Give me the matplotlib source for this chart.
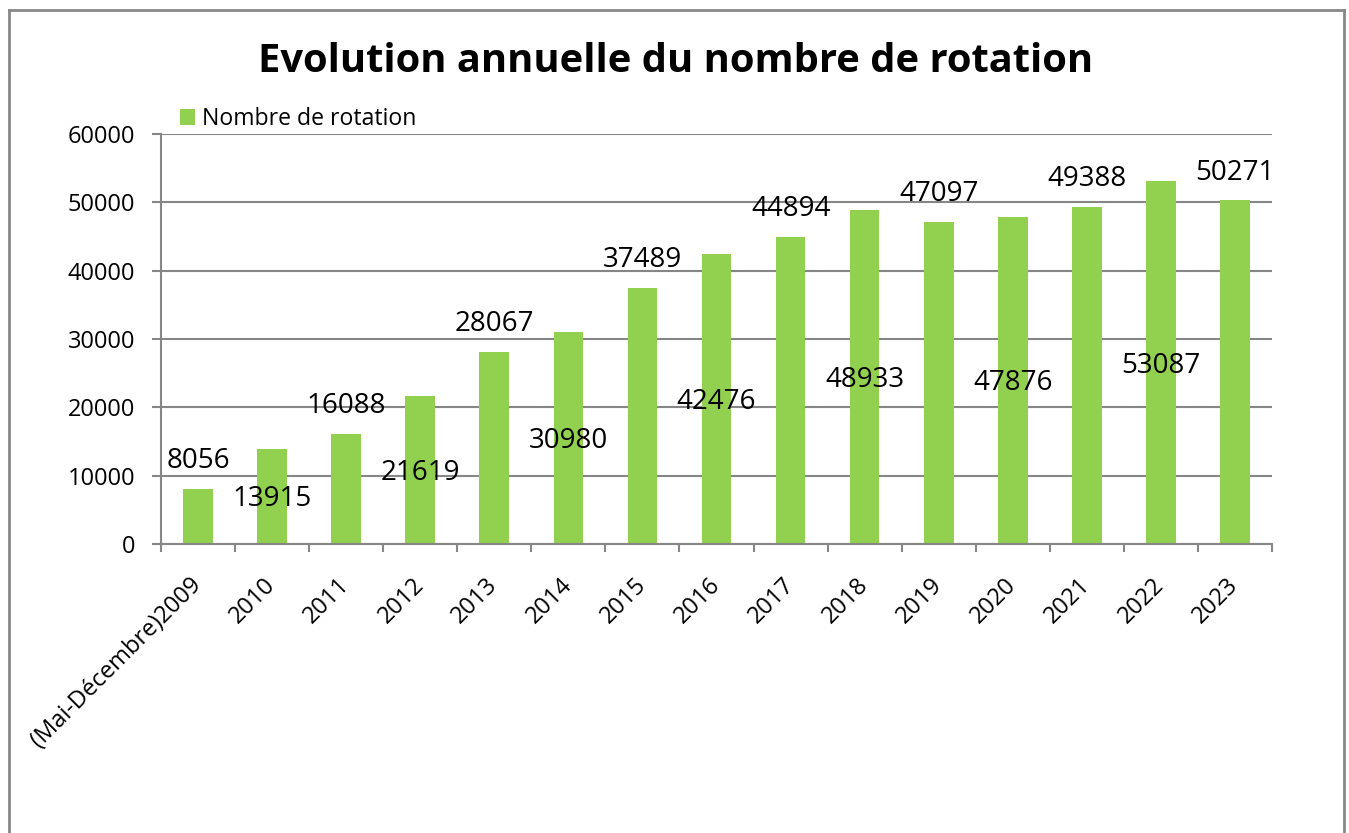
import matplotlib
matplotlib.use("Agg")
import matplotlib.pyplot as plt
from matplotlib.patches import Patch
from matplotlib.lines import Line2D
import numpy as np

categories = ["(Mai-Décembre)2009", "2010", "2011", "2012", "2013", "2014", "2015",
              "2016", "2017", "2018", "2019", "2020", "2021", "2022", "2023"]
values = [8056, 13915, 16088, 21619, 28067, 30980, 37489, 42476, 44894, 48933,
          47097, 47876, 49388, 53087, 50271]
yticks = [0, 10000, 20000, 30000, 40000, 50000, 60000]
title = "Evolution annuelle du nombre de rotation"
series_name = "Nombre de rotation"

plt.rcParams['font.family'] = ['Open Sans', 'DejaVu Sans']
W, H = 1349, 833
fig = plt.figure(figsize=(W / 100, H / 100), dpi=100)
ax = fig.add_axes([161 / W, 1 - 544 / H, (1272 - 161) / W, (544 - 134) / H])

green = "#92D050"
grid = "#868686"
x = np.arange(len(categories))
bars = ax.bar(x, values, width=0.40, color=green, zorder=2, label=series_name)

ax.set_xlim(-0.5, len(categories) - 0.5)
ax.set_ylim(0, 60000)
ax.set_yticks(yticks)
ax.set_yticklabels([str(v) for v in yticks], fontsize=17)
ax.yaxis.grid(True, color=grid, linewidth=1.5, zorder=0)
ax.set_axisbelow(True)

for s in ["top", "right"]:
    ax.spines[s].set_visible(False)
for s in ["left", "bottom"]:
    ax.spines[s].set_color(grid)
    ax.spines[s].set_linewidth(1.5)

ax.tick_params(axis="y", length=6.5, width=1.5, color=grid, pad=12)
ax.set_xticks(x)
ax.set_xticklabels(categories, fontsize=17, rotation=45, ha="right",
                   va="center", rotation_mode="anchor")
ax.tick_params(axis="x", which="major", length=0, pad=27)
ax.set_xticks(np.arange(-0.5, len(categories), 1.0), minor=True)
ax.tick_params(axis="x", which="minor", length=6, width=1.5, color=grid)

# data labels: alternating above / centered inside
for i, v in enumerate(values):
    if i % 2 == 0:
        ax.annotate(str(v), (x[i], v), xytext=(0, 15), textcoords="offset points",
                    ha="center", va="baseline", fontsize=20, zorder=3)
    else:
        ax.annotate(str(v), (x[i], v / 2), xytext=(0, -7.2), textcoords="offset points",
                    ha="center", va="baseline", fontsize=20, zorder=3)

fig.text(676 / W, 1 - 62 / H, title, ha="center", va="center",
         fontsize=28.7, fontweight="bold")

leg = ax.legend(handles=[Patch(facecolor=green, edgecolor="none", label=series_name)],
                loc="center left", bbox_to_anchor=(180 / W, 1 - 119 / H),
                bbox_transform=fig.transFigure, frameon=False, fontsize=16.6,
                handlelength=0.65, handleheight=0.65, handletextpad=0.3,
                borderaxespad=0, borderpad=0)

# outer chart frame
fc = "#888888"
fig.add_artist(Line2D([9 / W, 9 / W], [0, 1 - 10 / H], transform=fig.transFigure, color=fc, lw=2))
fig.add_artist(Line2D([1344 / W, 1344 / W], [0, 1 - 10 / H], transform=fig.transFigure, color=fc, lw=2))
fig.add_artist(Line2D([9 / W, 1344 / W], [1 - 10 / H, 1 - 10 / H], transform=fig.transFigure, color=fc, lw=2))

fig.savefig("out.png", dpi=100)
